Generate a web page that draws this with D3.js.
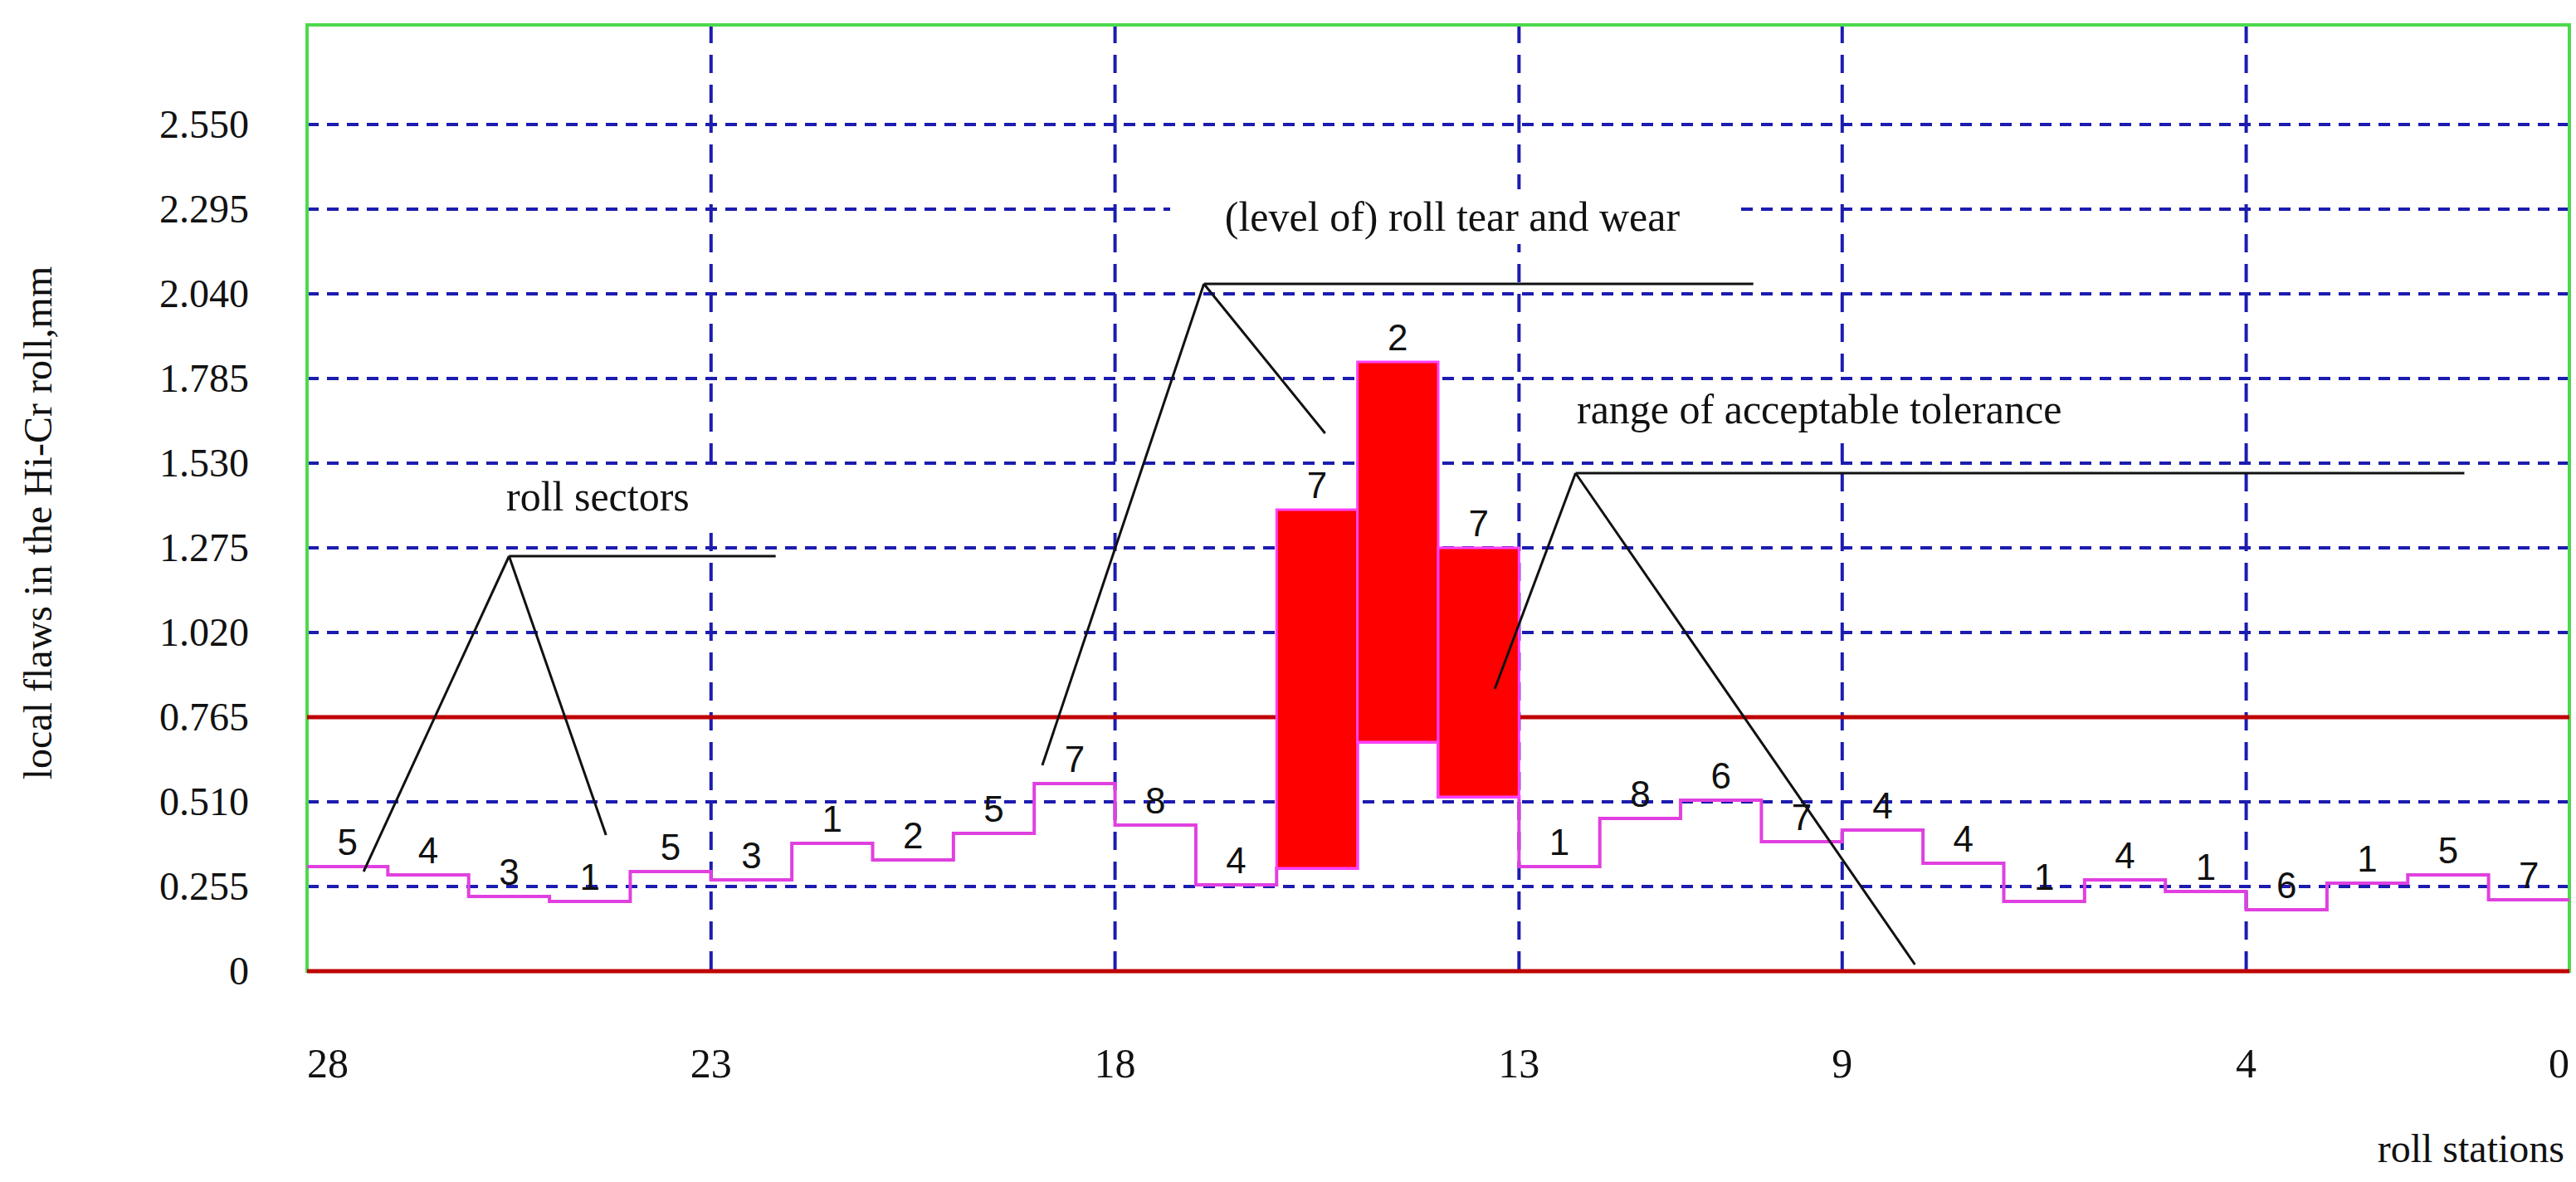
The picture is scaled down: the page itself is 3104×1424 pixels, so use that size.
<!DOCTYPE html>
<html>
<head>
<meta charset="utf-8">
<script src="https://cdn.jsdelivr.net/npm/d3@7"></script>
<style>
  body { margin: 0; background: #fff; }
  svg { display: block; }
</style>
</head>
<body>
<div id="chart"></div>
<script>
// data
const sectorLabels = [5, 4, 3, 1, 5, 3, 1, 2, 5, 7, 8, 4, 7, 2, 7, 1, 8, 6, 7, 4, 4, 1, 4, 1, 6, 1, 5, 7];
const flawLow  = [0.315, 0.29, 0.225, 0.21, 0.30, 0.275, 0.385, 0.335, 0.415, 0.565, 0.44, 0.26,
                  0.31, 0.69, 0.525, 0.315, 0.46, 0.515, 0.39, 0.425, 0.325, 0.21, 0.275, 0.24, 0.185, 0.265, 0.29, 0.215];
const flawHigh = [null, null, null, null, null, null, null, null, null, null, null, null,
                  1.39, 1.835, 1.275, null, null, null, null, null, null, null, null, null, null, null, null, null];
const yTicks = [0, 0.255, 0.510, 0.765, 1.020, 1.275, 1.530, 1.785, 2.040, 2.295, 2.550];
const xTicks = [28, 23, 18, 13, 9, 4, 0];
const tolerance = 0.765;

const W = 3104, H = 1424;
const mLeft = 370, mRight = 3096, mTop = 30, mBottom = 1170;

const svg = d3.select('#chart').append('svg')
    .attr('width', W).attr('height', H);

const x = d3.scaleLinear().domain([28, 0]).range([mLeft, mRight]);
const y = d3.scaleLinear().domain([0, 2.55]).range([mBottom, 150]);

// grid
const gridColor = '#1c1cb0';
svg.append('g').selectAll('line').data(yTicks.filter(d => d > 0 && d !== tolerance))
    .enter().append('line')
    .attr('x1', mLeft).attr('x2', mRight)
    .attr('y1', d => y(d)).attr('y2', d => y(d))
    .attr('stroke', gridColor).attr('stroke-width', 4).attr('stroke-dasharray', '14,10');
svg.append('g').selectAll('line').data(xTicks.filter(d => d !== 28 && d !== 0))
    .enter().append('line')
    .attr('x1', d => x(d)).attr('x2', d => x(d))
    .attr('y1', mTop).attr('y2', mBottom)
    .attr('stroke', gridColor).attr('stroke-width', 4).attr('stroke-dasharray', '22,14');

// green frame
svg.append('rect')
    .attr('x', mLeft).attr('y', mTop)
    .attr('width', mRight - mLeft).attr('height', mBottom - mTop)
    .attr('fill', 'none').attr('stroke', '#4cd94c').attr('stroke-width', 4);

// tolerance and zero lines
svg.selectAll('.redline').data([0, tolerance]).enter().append('line')
    .attr('class', 'redline')
    .attr('x1', mLeft).attr('x2', mRight)
    .attr('y1', d => y(d)).attr('y2', d => y(d))
    .attr('stroke', '#c00000').attr('stroke-width', 5);

// step line
const steps = [];
flawLow.forEach((v, i) => {
    steps.push([28 - i, v]);
    steps.push([27 - i, v]);
});
svg.append('path')
    .attr('d', d3.line().x(d => x(d[0])).y(d => y(d[1]))(steps))
    .attr('fill', 'none').attr('stroke', '#e040e0').attr('stroke-width', 4);

// out-of-tolerance bars
const bars = flawLow.map((v, i) => ({ i, low: v, high: flawHigh[i] })).filter(d => d.high !== null);
svg.selectAll('.bar').data(bars).enter().append('rect')
    .attr('x', d => x(28 - d.i)).attr('width', d => x(27 - d.i) - x(28 - d.i))
    .attr('y', d => y(d.high)).attr('height', d => y(d.low) - y(d.high))
    .attr('fill', '#ff0000').attr('stroke', '#ff40ff').attr('stroke-width', 3);

// sector labels
svg.selectAll('.sec').data(sectorLabels).enter().append('text')
    .attr('x', (d, i) => (x(28 - i) + x(27 - i)) / 2)
    .attr('y', (d, i) => y(flawHigh[i] !== null ? flawHigh[i] : flawLow[i]) - 14)
    .attr('text-anchor', 'middle')
    .attr('font-family', 'Liberation Sans Narrow, Liberation Sans, sans-serif')
    .attr('font-size', 44).attr('fill', '#111')
    .text(d => d);

// axes labels
svg.selectAll('.yt').data(yTicks).enter().append('text')
    .attr('x', 300).attr('y', d => y(d) + 16)
    .attr('text-anchor', 'end')
    .attr('font-family', 'Liberation Serif, serif').attr('font-size', 48).attr('fill', '#111')
    .text(d => d === 0 ? '0' : d.toFixed(3));
svg.selectAll('.xt').data(xTicks).enter().append('text')
    .attr('x', d => x(d)).attr('y', 1298)
    .attr('text-anchor', d => d === 0 ? 'end' : (d === 28 ? 'start' : 'middle'))
    .attr('font-family', 'Liberation Serif, serif').attr('font-size', 50).attr('fill', '#111')
    .text(d => d);
svg.append('text')
    .attr('transform', `translate(62,${(mTop + mBottom) / 2 + 30}) rotate(-90)`)
    .attr('text-anchor', 'middle')
    .attr('font-family', 'Liberation Serif, serif').attr('font-size', 48).attr('fill', '#111')
    .text('local flaws in the Hi-Cr roll,mm');
svg.append('text')
    .attr('x', 3090).attr('y', 1400).attr('text-anchor', 'end')
    .attr('font-family', 'Liberation Serif, serif').attr('font-size', 48).attr('fill', '#111')
    .text('roll stations');

// annotations: text, elbow point, end of horizontal bar, two pointer targets (in data units)
const notes = [
    { text: 'roll sectors', tx: 610, ty: 615, anchor: 'start',
      apex: [25.5, 1.25], barEnd: 22.2, targets: [[27.3, 0.3], [24.3, 0.41]] },
    { text: '(level of) roll tear and wear', tx: 1750, ty: 278, anchor: 'middle',
      apex: [16.9, 2.07], barEnd: 10.1, targets: [[18.9, 0.62], [15.4, 1.62]] },
    { text: 'range of acceptable tolerance', tx: 1900, ty: 510, anchor: 'start',
      apex: [12.3, 1.5], barEnd: 1.3, targets: [[13.3, 0.85], [8.1, 0.02]] }
];
const ann = svg.append('g').selectAll('g').data(notes).enter().append('g');
ann.append('rect')
    .attr('x', d => d.anchor === 'middle' ? d.tx - 340 : d.tx - 10)
    .attr('y', d => d.ty - 50)
    .attr('width', d => d.anchor === 'middle' ? 680 : d.text.length * 22 + 20)
    .attr('height', 66).attr('fill', '#fff');
ann.append('text')
    .attr('x', d => d.tx).attr('y', d => d.ty).attr('text-anchor', d => d.anchor)
    .attr('font-family', 'Liberation Serif, serif').attr('font-size', 50).attr('fill', '#111')
    .text(d => d.text);
ann.append('path')
    .attr('d', d => {
        const a = [x(d.apex[0]), y(d.apex[1])];
        return `M${x(d.barEnd)},${a[1]}L${a[0]},${a[1]}` +
            d.targets.map(t => `M${a[0]},${a[1]}L${x(t[0])},${y(t[1])}`).join('');
    })
    .attr('fill', 'none').attr('stroke', '#111').attr('stroke-width', 3);
</script>
</body>
</html>
